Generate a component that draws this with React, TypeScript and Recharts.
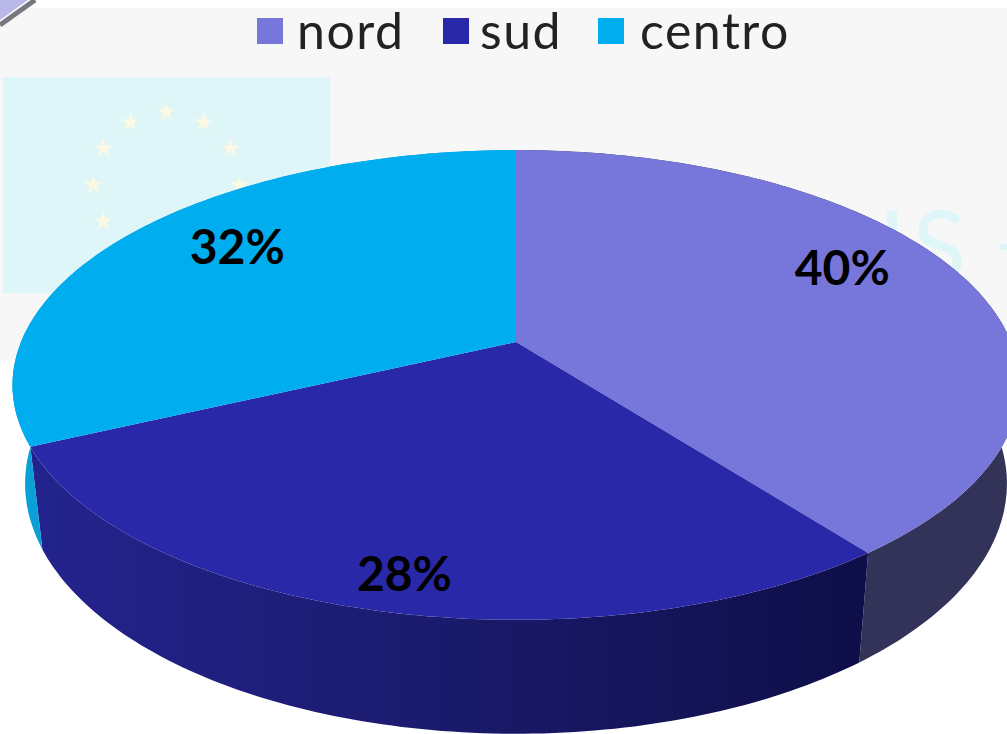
import { PieChart, Pie, Legend } from "recharts";

const labels = ["nord", "sud", "centro"];
// labels read 40/28/32, the slices themselves sit a touch off round numbers
const shares = [39.6, 28.4, 32];
const topColors = ["#7676db", "#2828a8", "#00aeef"];
const wallColors = ["#33335a", "url(#sudWall)", "#0a9fd6"];
const labelNudge = [
  [11, -27],
  [-18, 54],
  [-5, -17],
];
const legendSwatchX = [257, 443, 598];
const legendTextX = [297, 480, 640];
const starSpots = [
  [166, 112],
  [130, 122],
  [203, 122],
  [103, 148],
  [230, 148],
  [93, 185],
  [239, 185],
  [103, 221],
];

const rows = labels.map((name, i) => ({ name, value: shares[i], fill: topColors[i] }));
const wallRows = labels.map((name, i) => ({ name, value: shares[i], fill: wallColors[i] }));

// fake perspective: the real circle seen at a tilt, apex stays at cx,cy
const TILT = 0.183;
const SQUASH = 227 / 495;

function project(cx: number, cy: number, r: number, deg: number, f = 1) {
  const a = (deg * Math.PI) / 180;
  const u = Math.cos(a) * f;
  const v = Math.sin(a) * f;
  const w = 1 + TILT * v;
  return { x: cx + (r * u) / w, y: cy - (r * SQUASH * v) / w };
}

// the lower rim is a bit narrower and slides down
function lower(cx: number, p: { x: number; y: number }) {
  return { x: cx + (p.x - cx) * 0.975, y: 555 + (p.y - 452) * 1.065 };
}

function rim(props: any) {
  const { cx, cy, outerRadius, startAngle, endAngle } = props;
  const pts = [];
  const steps = Math.ceil(Math.abs(endAngle - startAngle));
  for (let i = 0; i <= steps; i++) {
    const deg = startAngle + ((endAngle - startAngle) * i) / steps;
    pts.push(project(cx, cy, outerRadius, deg));
  }
  return pts;
}

const toPath = (pts: { x: number; y: number }[]) =>
  pts.map((p, i) => `${i ? "L" : "M"}${p.x.toFixed(1)} ${p.y.toFixed(1)}`).join(" ") + " Z";

function TopSlice(props: any) {
  const apex = { x: props.cx, y: props.cy };
  return <path d={toPath([apex, ...rim(props)])} fill={props.fill} />;
}

function WallSlice(props: any) {
  const top = rim(props);
  const bottom = top.map((p) => lower(props.cx, p)).reverse();
  return <path d={toPath([...top, ...bottom])} fill={props.fill} />;
}

function PercentLabel(props: any) {
  const { cx, cy, outerRadius, midAngle, index, value } = props;
  const p = project(cx, cy, outerRadius, midAngle, 0.7);
  return (
    <text
      x={p.x + labelNudge[index][0]}
      y={p.y + labelNudge[index][1]}
      textAnchor="middle"
      dominantBaseline="central"
      fontFamily="Lato"
      fontWeight={700}
      fontSize={48}
      fill="#000"
    >
      {Math.round(value)}%
    </text>
  );
}

function LegendRow({ payload }: any) {
  // the wall pie is in the payload too, marked type none
  const items = (payload || []).filter((item: any) => item.type !== "none");
  return (
    <div style={{ position: "relative", height: 0 }}>
      {items.map((item: any, i: number) => (
        <div key={item.value}>
          <div style={{ position: "absolute", left: legendSwatchX[i], top: 18, width: 26, height: 26, background: item.color }} />
          <div
            style={{
              position: "absolute",
              left: legendTextX[i],
              top: 0,
              fontFamily: "Lato",
              fontSize: 50,
              lineHeight: "60px",
              letterSpacing: 1.5,
              color: "#222",
            }}
          >
            {item.value}
          </div>
        </div>
      ))}
    </div>
  );
}

export default function App() {
  return (
    <div style={{ position: "absolute", left: 0, top: 0, width: 1007, height: 734, overflow: "hidden", background: "#fff" }}>
      <svg width={1007} height={734} style={{ position: "absolute", left: 0, top: 0 }}>
        <rect x={0} y={8} width={1007} height={352} fill="#f7f7f7" />
        <rect x={3} y={77} width={327} height={216} fill="#dff6f9" />
        {starSpots.map(([x, y]) => (
          <text key={`${x}-${y}`} x={x} y={y} textAnchor="middle" dominantBaseline="central" fontFamily="DejaVu Sans" fontSize={24} fill="#fbf8e4">
            ★
          </text>
        ))}
        <text x={878} y={283} fontFamily="Lato" fontSize={100} letterSpacing={6} fill="#dff6f9">
          IS
        </text>
        <rect x={1000} y={244} width={7} height={6} fill="#dff6f9" />
        <path d="M0 0 H28 L0 20 Z" fill="#b9b6e8" />
        <path d="M0 25 L35 0" stroke="#77777f" strokeWidth={5} fill="none" />
      </svg>
      <div style={{ position: "absolute", left: 0, top: 0 }}>
        <PieChart width={1007} height={734} margin={{ top: 0, right: 0, bottom: 0, left: 0 }}>
          <defs>
            <linearGradient id="sudWall" x1="0" y1="0" x2="1" y2="0">
              <stop offset="0" stopColor="#23238e" />
              <stop offset="0.5" stopColor="#1a1a6c" />
              <stop offset="1" stopColor="#0e0e48" />
            </linearGradient>
          </defs>
          <Pie
            data={wallRows}
            dataKey="value"
            nameKey="name"
            cx={516}
            cy={342}
            outerRadius={495}
            startAngle={90}
            endAngle={-270}
            stroke="none"
            legendType="none"
            shape={WallSlice}
            isAnimationActive={false}
          />
          <Pie
            data={rows}
            dataKey="value"
            nameKey="name"
            cx={516}
            cy={342}
            outerRadius={495}
            startAngle={90}
            endAngle={-270}
            stroke="none"
            shape={TopSlice}
            label={PercentLabel}
            labelLine={false}
            isAnimationActive={false}
          />
          <Legend
            verticalAlign="top"
            itemSorter={null}
            wrapperStyle={{ left: 0, top: 0, width: 1007 }}
            content={LegendRow}
          />
        </PieChart>
      </div>
    </div>
  );
}
